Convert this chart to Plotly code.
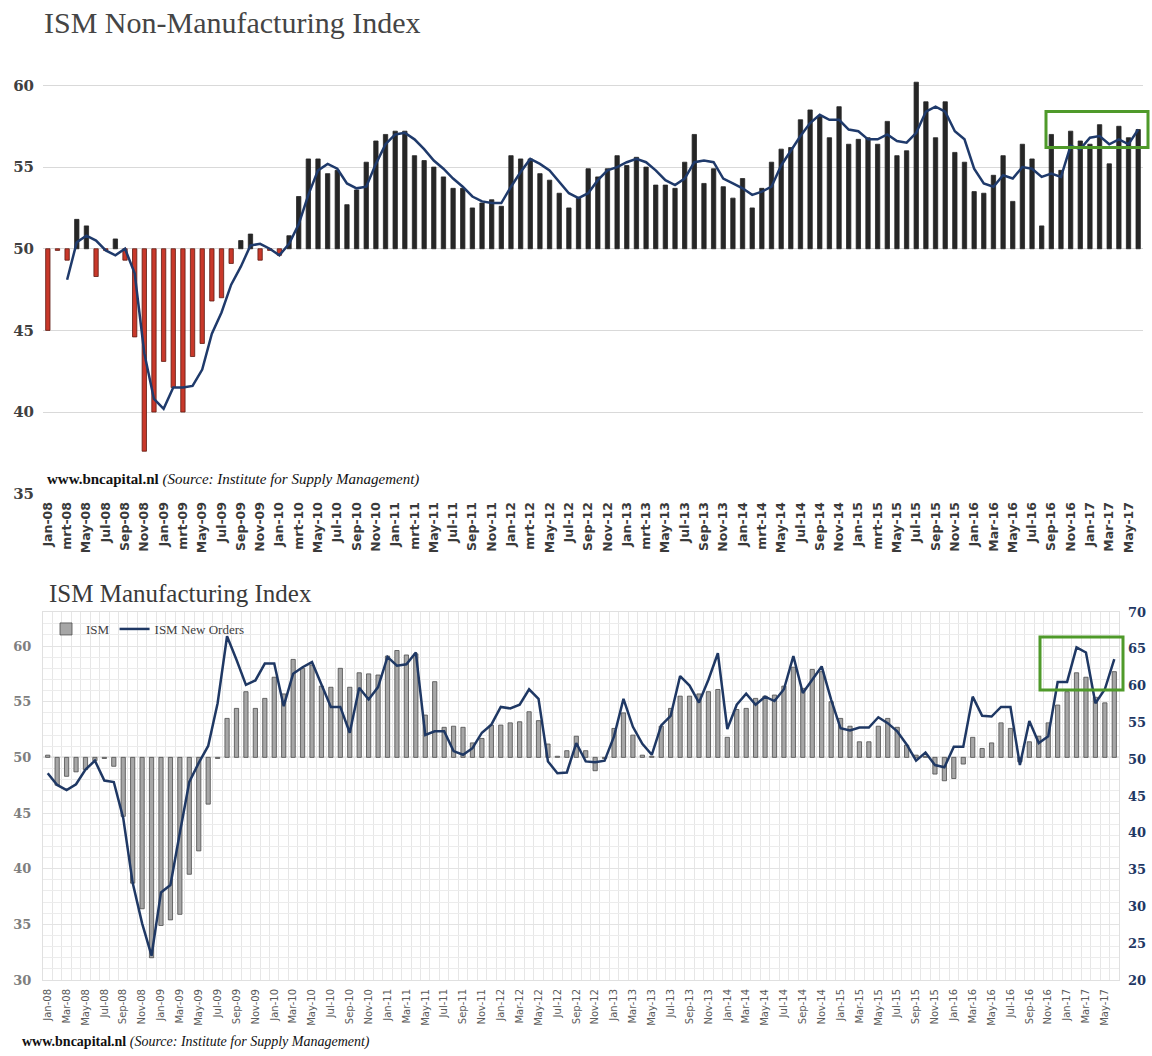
import plotly.graph_objects as go

W, H = 1152, 1056

# ---------------- data ----------------
nm_tick_labels = [
    "Jan-08", "mrt-08", "May-08", "Jul-08", "Sep-08", "Nov-08",
    "Jan-09", "mrt-09", "May-09", "Jul-09", "Sep-09", "Nov-09",
    "Jan-10", "mrt-10", "May-10", "Jul-10", "Sep-10", "Nov-10",
    "Jan-11", "mrt-11", "May-11", "Jul-11", "Sep-11", "Nov-11",
    "Jan-12", "mrt-12", "May-12", "Jul-12", "Sep-12", "Nov-12",
    "Jan-13", "mrt-13", "May-13", "Jul-13", "Sep-13", "Nov-13",
    "Jan-14", "mrt-14", "May-14", "Jul-14", "Sep-14", "Nov-14",
    "Jan-15", "mrt-15", "May-15", "Jul-15", "Sep-15", "Nov-15",
    "Jan-16", "Mar-16", "May-16", "Jul-16", "Sep-16", "Nov-16",
    "Jan-17", "Mar-17", "May-17",
]

mfg_tick_labels = [
    "Jan-08", "Mar-08", "May-08", "Jul-08", "Sep-08", "Nov-08",
    "Jan-09", "Mar-09", "May-09", "Jul-09", "Sep-09", "Nov-09",
    "Jan-10", "Mar-10", "May-10", "Jul-10", "Sep-10", "Nov-10",
    "Jan-11", "Mar-11", "May-11", "Jul-11", "Sep-11", "Nov-11",
    "Jan-12", "Mar-12", "May-12", "Jul-12", "Sep-12", "Nov-12",
    "Jan-13", "Mar-13", "May-13", "Jul-13", "Sep-13", "Nov-13",
    "Jan-14", "Mar-14", "May-14", "Jul-14", "Sep-14", "Nov-14",
    "Jan-15", "Mar-15", "May-15", "Jul-15", "Sep-15", "Nov-15",
    "Jan-16", "Mar-16", "May-16", "Jul-16", "Sep-16", "Nov-16",
    "Jan-17", "Mar-17", "May-17",
]

# ISM Non-Manufacturing index, Jan-08 .. Jun-17
nm_index = [
    45.0, 49.9, 49.3, 51.8, 51.4, 48.3, 49.9, 50.6, 49.3, 44.6, 37.6, 40.0,
    43.1, 41.5, 40.0, 43.4, 44.2, 46.8, 47.0, 49.1, 50.5, 50.9, 49.3, 49.9,
    49.6, 50.8, 53.2, 55.5, 55.5, 54.6, 54.8, 52.7, 53.6, 55.3, 56.6, 57.0,
    57.2, 57.2, 55.7, 55.4, 55.0, 54.4, 53.7, 53.7, 52.5, 52.8, 53.0, 52.6,
    55.7, 55.5, 55.5, 54.6, 54.2, 53.4, 52.5, 53.1, 54.9, 54.4, 54.9, 55.7,
    55.1, 55.6, 55.0, 53.9, 53.9, 53.7, 55.3, 57.0, 54.0, 54.9, 53.8, 53.1,
    54.3, 52.5, 53.7, 55.3, 56.1, 56.2, 57.9, 58.5, 58.1, 56.8, 58.7, 56.4,
    56.7, 56.8, 56.4, 57.8, 55.7, 56.0, 60.2, 59.0, 56.8, 59.0, 55.9, 55.3,
    53.5, 53.4, 54.5, 55.7, 52.9, 56.4, 55.5, 51.4, 57.0, 54.8, 57.2, 56.6,
    56.4, 57.6, 55.2, 57.5, 56.8, 57.3,
]

# 3-month average line, Mar-08 .. Jun-17
nm_avg = [
    48.1, 50.4, 50.8, 50.5, 49.9, 49.6, 50.0, 48.5, 43.6, 40.8,
    40.2, 41.5, 41.5, 41.6, 42.6, 44.8, 46.1, 47.8, 48.9, 50.2, 50.3, 50.0,
    49.6, 50.3, 51.5, 53.3, 54.8, 55.2, 54.9, 54.0, 53.7, 53.8, 55.2, 56.4,
    57.0, 57.1, 56.7, 56.1, 55.4, 54.9, 54.3, 53.8, 53.2, 52.9, 52.8, 52.8,
    53.8, 54.7, 55.5, 55.2, 54.8, 54.1, 53.4, 53.1, 53.4, 54.2, 54.8, 55.0,
    55.3, 55.5, 55.3, 54.8, 54.2, 53.9, 54.3, 55.3, 55.4, 55.3, 54.3, 54.0,
    53.7, 53.3, 53.5, 53.8, 55.1, 56.0, 56.9, 57.7, 58.2, 57.9, 57.9, 57.3,
    57.2, 56.7, 56.7, 57.0, 56.6, 56.5, 57.1, 58.4, 58.7, 58.4, 57.2, 56.7,
    54.9, 54.0, 53.8, 54.5, 54.3, 55.0, 54.9, 54.4, 54.6, 54.4, 56.3, 56.1,
    56.8, 56.9, 56.4, 56.7, 56.4, 57.3,
]

# ISM Manufacturing index, Jan-08 .. Jun-17
mfg_index = [
    50.2, 47.5, 48.3, 48.7, 48.9, 49.7, 49.9, 49.2, 44.7, 38.7, 36.4, 32.0,
    34.9, 35.4, 35.9, 39.5, 41.6, 45.8, 49.9, 53.5, 54.4, 55.9, 54.4, 55.3,
    57.2, 55.7, 58.8, 58.0, 58.3, 56.4, 56.3, 58.0, 56.3, 57.6, 57.5, 57.4,
    59.1, 59.6, 59.2, 59.3, 53.8, 56.8, 52.7, 52.8, 52.7, 51.3, 51.7, 52.9,
    52.9, 53.1, 53.2, 54.1, 53.3, 51.2, 50.1, 50.6, 51.9, 50.6, 48.8, 49.9,
    52.6, 54.0, 52.0, 50.2, 50.1, 52.8, 54.4, 55.5, 55.5, 55.7, 55.9, 56.1,
    51.8, 54.3, 54.4, 55.3, 55.5, 55.6, 56.4, 58.1, 56.2, 57.9, 57.7, 55.0,
    53.5, 52.8, 51.4, 51.4, 52.8, 53.5, 52.7, 51.1, 50.2, 50.1, 48.5, 47.9,
    48.1, 49.4, 51.8, 50.8, 51.3, 53.1, 52.6, 49.6, 51.4, 51.9, 53.1, 54.7,
    55.9, 57.6, 57.2, 55.4, 54.9, 57.7,
]

# ISM New Orders (right axis), Jan-08 .. Jun-17
mfg_new_orders = [
    48.1, 46.5, 45.8, 46.6, 48.6, 49.8, 47.1, 46.9, 42.0, 33.2, 27.7, 23.3,
    31.9, 32.9, 40.0, 46.9, 49.5, 51.8, 57.6, 66.7, 63.5, 60.1, 60.7, 63.0,
    63.0, 57.2, 61.6, 62.5, 63.2, 60.1, 57.1, 57.1, 53.6, 59.7, 58.1, 59.8,
    63.9, 62.7, 62.9, 64.5, 53.3, 53.8, 53.8, 51.1, 50.6, 51.5, 53.6, 54.7,
    57.1, 56.9, 57.4, 59.5, 58.2, 49.7, 48.1, 48.2, 52.2, 49.7, 49.6, 49.8,
    53.1, 58.2, 54.4, 52.1, 50.6, 54.6, 55.9, 61.3, 60.0, 57.7, 60.8, 64.4,
    54.1, 57.4, 58.9, 57.4, 58.5, 57.9, 59.5, 64.0, 59.0, 60.8, 62.6, 58.1,
    54.2, 53.9, 54.3, 54.3, 55.7, 54.9, 53.8, 52.0, 49.8, 50.9, 49.2, 48.9,
    51.7, 51.7, 58.5, 55.9, 55.8, 57.1, 57.1, 49.2, 55.2, 52.2, 53.1, 60.5,
    60.5, 65.2, 64.5, 57.6, 59.5, 63.6,
]

BASE = 50

# ---------------- helpers ----------------
def px_x(px):
    return px / W


def px_y(py):
    return 1 - py / H


n = len(nm_index)
xs = list(range(n))
tick_pos = list(range(0, n, 2))
avg_x = xs[n - len(nm_avg):]

NAVY = "#1f3a6b"
DARK = "#262626"
RED = "#c8382a"
GREEN = "#4f9a2a"
SERIF = "Liberation Serif"

fig = go.Figure()

# ---- top chart ----
fig.add_trace(go.Bar(
    x=xs, y=[v - BASE for v in nm_index], base=BASE,
    width=0.45,
    marker=dict(
        color=[DARK if v >= BASE else RED for v in nm_index],
        line=dict(color=[DARK if v >= BASE else "#5e1a12" for v in nm_index], width=0.8),
    ),
    xaxis="x", yaxis="y", showlegend=False, name="ISM NMI",
))
fig.add_trace(go.Scatter(
    x=avg_x, y=nm_avg, mode="lines",
    line=dict(color=NAVY, width=2.5),
    xaxis="x", yaxis="y", showlegend=False, name="3m avg",
))

# ---- bottom chart ----
fig.add_trace(go.Bar(
    x=xs, y=[v - BASE for v in mfg_index], base=BASE,
    width=0.45,
    marker=dict(color="#a6a6a6", line=dict(color="#4d4d4d", width=0.8)),
    xaxis="x2", yaxis="y2", name="ISM",
))
fig.add_trace(go.Scatter(
    x=xs, y=mfg_new_orders, mode="lines",
    line=dict(color="#1f3864", width=2.5),
    xaxis="x2", yaxis="y3", name="ISM New Orders",
))

top_dom_y = [px_y(494.5), px_y(52.8)]
bot_dom_y = [px_y(980), px_y(612)]

fig.update_layout(
    width=W, height=H,
    autosize=False,
    margin=dict(l=0, r=0, t=0, b=0, pad=0, autoexpand=False),
    paper_bgcolor="white", plot_bgcolor="white",
    bargap=0.5,
    xaxis=dict(
        domain=[px_x(43), px_x(1143)], range=[-0.5, n - 0.5],
        tickmode="array", tickvals=tick_pos, ticktext=nm_tick_labels,
        tickangle=-90, showgrid=False, zeroline=False, ticks="",
        tickfont=dict(family="DejaVu Sans", size=12.5, color="#3a3a3a", weight="bold"),
        anchor="y", ticklabelstandoff=4, automargin=False,
    ),
    yaxis=dict(
        domain=top_dom_y, range=[34.95, 62],
        tickmode="array", tickvals=[35, 40, 45, 50, 55, 60],
        showgrid=True, gridcolor="#d9d9d9", gridwidth=1.2, zeroline=False, ticks="",
        tickfont=dict(family="DejaVu Serif", size=15, color="#404040", weight="bold"),
        anchor="x", ticklabelstandoff=8, automargin=False,
    ),
    xaxis2=dict(
        domain=[px_x(43), px_x(1119)], range=[-0.5, n - 0.5],
        tickmode="array", tickvals=tick_pos, ticktext=mfg_tick_labels,
        tickangle=-90, showgrid=False, zeroline=False, ticks="",
        tickfont=dict(family="DejaVu Sans", size=10, color="#595959"),
        minor=dict(tickmode="linear", tick0=0.5, dtick=1, showgrid=True,
                   gridcolor="#e6e6e6", gridwidth=1, ticks=""),
        showline=True, linecolor="#e0e0e0", mirror=True,
        anchor="y2", ticklabelstandoff=4, automargin=False,
    ),
    yaxis2=dict(
        domain=bot_dom_y, range=[30, 63.06],
        tickmode="array", tickvals=[30, 35, 40, 45, 50, 55, 60],
        showgrid=True, gridcolor="#e3e3e3", zeroline=False, ticks="",
        minor=dict(tickmode="linear", tick0=30, dtick=1, showgrid=True,
                   gridcolor="#ececec", gridwidth=1, ticks=""),
        showline=True, linecolor="#e0e0e0", mirror=True,
        tickfont=dict(family="DejaVu Serif", size=13, color="#7f7f7f", weight="bold"),
        anchor="x2", ticklabelstandoff=8, automargin=False,
    ),
    yaxis3=dict(
        domain=bot_dom_y, range=[20, 70], overlaying="y2", side="right",
        tickmode="array", tickvals=list(range(20, 71, 5)),
        showgrid=False, zeroline=False, ticks="",
        tickfont=dict(family="DejaVu Serif", size=13, color="#1f3864", weight="bold"),
        anchor="x2", ticklabelstandoff=8, automargin=False,
    ),
    legend=dict(
        orientation="h", x=px_x(46), y=px_y(614), xanchor="left", yanchor="top",
        bgcolor="rgba(0,0,0,0)", font=dict(family=SERIF, size=13, color="#404040"),
        itemwidth=30, tracegroupgap=0,
    ),
)

# 50 baseline in the bottom chart
fig.add_shape(type="line", xref="x2", yref="y2", x0=-0.5, x1=n - 0.5, y0=BASE, y1=BASE,
              line=dict(color="#a6a6a6", width=1.2), layer="below")

# green highlight boxes
fig.add_shape(type="rect", xref="paper", yref="paper",
              x0=px_x(1046), x1=px_x(1148), y0=px_y(147.5), y1=px_y(111.5),
              line=dict(color=GREEN, width=3))
fig.add_shape(type="rect", xref="paper", yref="paper",
              x0=px_x(1040), x1=px_x(1123), y0=px_y(690), y1=px_y(637),
              line=dict(color=GREEN, width=3))

# titles and sources
fig.add_annotation(text="ISM Non-Manufacturing Index", xref="paper", yref="paper",
                   x=px_x(42), y=px_y(22), xanchor="left", yanchor="middle", showarrow=False,
                   font=dict(family=SERIF, size=30, color="#454545"))
fig.add_annotation(text="ISM Manufacturing Index", xref="paper", yref="paper",
                   x=px_x(47), y=px_y(593), xanchor="left", yanchor="middle", showarrow=False,
                   font=dict(family=SERIF, size=25, color="#3a3a3a"))
fig.add_annotation(text="<b>www.bncapital.nl</b> <i>(Source: Institute for Supply Management)</i>",
                   xref="paper", yref="paper", x=px_x(45), y=px_y(479),
                   xanchor="left", yanchor="middle", showarrow=False,
                   font=dict(family=SERIF, size=15, color="#111111"))
fig.add_annotation(text="<b>www.bncapital.nl</b> <i>(Source: Institute for Supply Management)</i>",
                   xref="paper", yref="paper", x=px_x(20), y=px_y(1042),
                   xanchor="left", yanchor="middle", showarrow=False,
                   font=dict(family=SERIF, size=14, color="#111111"))

fig.write_html(
    "out.html",
    config={"displayModeBar": False},
    post_script="document.body.style.margin='0px';document.body.style.overflow='hidden';",
)
